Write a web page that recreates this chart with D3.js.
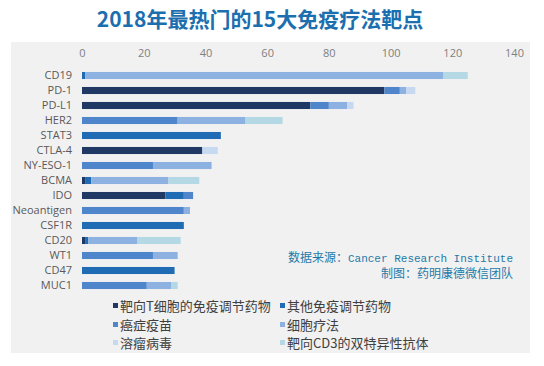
<!DOCTYPE html>
<html><head><meta charset="utf-8">
<script src="https://cdn.jsdelivr.net/npm/d3@7"></script>
<style>body{margin:0;background:#fff}svg{display:block}</style>
</head><body>
<script>
const categories = ["CD19","PD-1","PD-L1","HER2","STAT3","CTLA-4","NY-ESO-1","BCMA","IDO","Neoantigen","CSF1R","CD20","WT1","CD47","MUC1"];
const seriesNames = ["靶向T细胞的免疫调节药物","其他免疫调节药物","癌症疫苗","细胞疗法","溶瘤病毒","靶向CD3的双特异性抗体"];
const tCellMod   = [0, 98, 74, 0, 0, 39, 0, 1, 27, 0, 0, 1, 0, 0, 0];
const otherMod   = [1, 0, 0, 0, 45, 0, 0, 2, 6, 0, 33, 1, 0, 30, 0];
const vaccines   = [0, 5, 6, 31, 0, 0, 23, 0, 3, 33, 0, 0, 23, 0, 21];
const cellTher   = [116, 2, 6, 22, 0, 0, 19, 25, 0, 2, 0, 16, 8, 0, 8];
const oncolytic  = [0, 3, 2, 0, 0, 5, 0, 0, 0, 0, 0, 0, 0, 0, 0];
const cd3Bispec  = [8, 0, 0, 12, 0, 0, 0, 10, 0, 0, 0, 14, 0, 0, 2];
const xTicks = [0,20,40,60,80,100,120,140];
const colors = ["#1f3864","#1f6cb4","#4f86cb","#8db2e2","#c6d9f1","#b4d8e4"];

const W=544,H=366;
const svg=d3.select("body").append("svg").attr("width",W).attr("height",H);
svg.append("rect").attr("x",11).attr("y",42).attr("width",519).attr("height",311).attr("fill","#f1f1f2");
svg.append("text").attr("x",260).attr("y",27).attr("text-anchor","middle")
  .attr("font-family","'Noto Sans CJK SC'").attr("font-weight","bold").attr("font-size",21)
  .attr("fill","#1c6fae").text("2018年最热门的15大免疫疗法靶点");

const x=d3.scaleLinear().domain([0,140]).range([82,514]);
const y=d3.scaleBand().domain(categories).range([68,293]).paddingInner(0.53).paddingOuter(0.265);

const seriesArrays=[tCellMod,otherMod,vaccines,cellTher,oncolytic,cd3Bispec];
const rows=categories.map((c,i)=>{const o={cat:c};seriesNames.forEach((s,j)=>o[s]=seriesArrays[j][i]);return o;});
const stack=d3.stack().keys(seriesNames)(rows);

const gx=svg.append("g").attr("transform","translate(0,57)")
  .call(d3.axisTop(x).tickValues(xTicks).tickSize(0).tickPadding(0));
gx.select(".domain").remove();
gx.selectAll("text").attr("font-family","'Open Sans'").attr("font-size",11).attr("fill","#7f7f7f");

const gy=svg.append("g").attr("transform","translate(72,0)")
  .call(d3.axisLeft(y).tickSize(0).tickPadding(0));
gy.select(".domain").remove();
gy.selectAll("text").attr("font-family","'Open Sans'").attr("font-size",11).attr("fill","#595959");

svg.append("g").selectAll("g").data(stack).join("g").attr("fill",(d,i)=>colors[i])
  .selectAll("rect").data(d=>d).join("rect")
  .attr("x",d=>x(d[0])).attr("width",d=>x(d[1])-x(d[0]))
  .attr("y",d=>y(d.data.cat)).attr("height",y.bandwidth());

const src=svg.append("g").attr("fill","#1f7aa8");
const t1=src.append("text").attr("x",513).attr("y",262).attr("text-anchor","end");
t1.append("tspan").attr("font-family","'Noto Sans CJK SC'").attr("font-size",12).text("数据来源：");
t1.append("tspan").attr("font-family","'Liberation Mono'").attr("font-size",11).text("Cancer Research Institute");
src.append("text").attr("x",513).attr("y",278).attr("text-anchor","end")
  .attr("font-family","'Noto Sans CJK SC'").attr("font-size",12).text("制图：药明康德微信团队");

const legPos=[[113,306],[280,306],[113,325],[280,325],[113,343],[280,343]];
const lg=svg.append("g").selectAll("g").data(seriesNames).join("g")
  .attr("transform",(d,i)=>`translate(${legPos[i][0]},${legPos[i][1]})`);
lg.append("rect").attr("x",0).attr("y",-3).attr("width",5).attr("height",5).attr("fill",(d,i)=>colors[i]);
lg.append("text").attr("x",7).attr("y",0).attr("dy","0.35em")
  .attr("font-family","'Noto Sans CJK SC'").attr("font-size",13).attr("fill","#404040").text(d=>d);
</script>
</body></html>
